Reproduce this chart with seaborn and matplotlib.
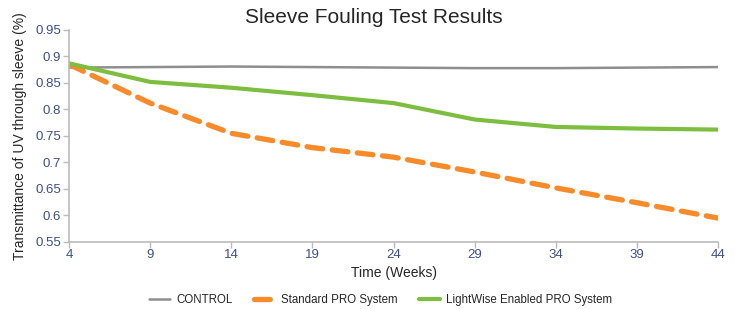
import pandas as pd
import matplotlib
matplotlib.use("Agg")
import matplotlib.pyplot as plt
import seaborn as sns

# values
weeks = [4, 9, 14, 19, 24, 29, 34, 39, 44]
control = [0.879, 0.880, 0.881, 0.880, 0.879, 0.878, 0.878, 0.879, 0.880]
standard = [0.885, 0.812, 0.755, 0.728, 0.710, 0.682, 0.652, 0.624, 0.595]
lightwise = [0.887, 0.852, 0.841, 0.827, 0.812, 0.781, 0.767, 0.764, 0.762]

names = ['CONTROL', 'Standard PRO System', 'LightWise Enabled PRO System']
colors = ['#8E8E8E', '#F78B2A', '#7DBD3F']

df = pd.DataFrame({'Time (Weeks)': weeks * 3,
                   'value': control + standard + lightwise,
                   'series': [n for n in names for _ in weeks]})

sns.set_style("white")
plt.rcParams['font.family'] = ['Liberation Sans', 'DejaVu Sans']

fig = plt.figure(figsize=(7.35, 3.09), dpi=100)
ax = fig.add_axes([0.094, 0.217, 0.883, 0.686])

widths = {'CONTROL': 1.8, 'Standard PRO System': 3.8, 'LightWise Enabled PRO System': 3.0}
for name, c in zip(names, colors):
    sub = df[df['series'] == name]
    sns.lineplot(data=sub, x='Time (Weeks)', y='value', color=c,
                 lw=widths[name], label=name, ax=ax)
ax.lines[1].set_dashes([3.0, 1.8])
ax.lines[1].set_dash_capstyle('round')

ax.set_xlim(4, 44)
ax.set_ylim(0.55, 0.95)
ax.set_xticks(range(4, 45, 5))
yt = [0.55, 0.6, 0.65, 0.7, 0.75, 0.8, 0.85, 0.9, 0.95]
ax.set_yticks(yt)
ax.set_yticklabels([f'{v:g}' for v in yt])
ax.tick_params(axis='both', colors='#BBBBBB', labelcolor='#3D4F8A', labelsize=9.5,
               length=4, width=1, direction='out', left=True, bottom=True)
ax.tick_params(axis='y', pad=2)
ax.tick_params(axis='x', pad=1)
for s in ['top', 'right']:
    ax.spines[s].set_visible(False)
for s in ['left', 'bottom']:
    ax.spines[s].set_color('#BBBBBB')
    ax.spines[s].set_linewidth(1.2)

ax.set_xlabel('Time (Weeks)', fontsize=10, labelpad=4)
ax.set_ylabel('Transmittance of UV through sleeve (%)', fontsize=10, labelpad=6)
fig.text(0.509, 0.943, 'Sleeve Fouling Test Results', fontsize=15, ha='center', va='center')

handles, labels = ax.get_legend_handles_labels()
ax.get_legend().remove()
fig.legend(handles, labels, loc='center', bbox_to_anchor=(0.518, 0.03), ncol=3, frameon=False,
           fontsize=8.3, handlelength=1.8, columnspacing=1.9, handletextpad=0.5)

fig.savefig('out.png', dpi=100)
